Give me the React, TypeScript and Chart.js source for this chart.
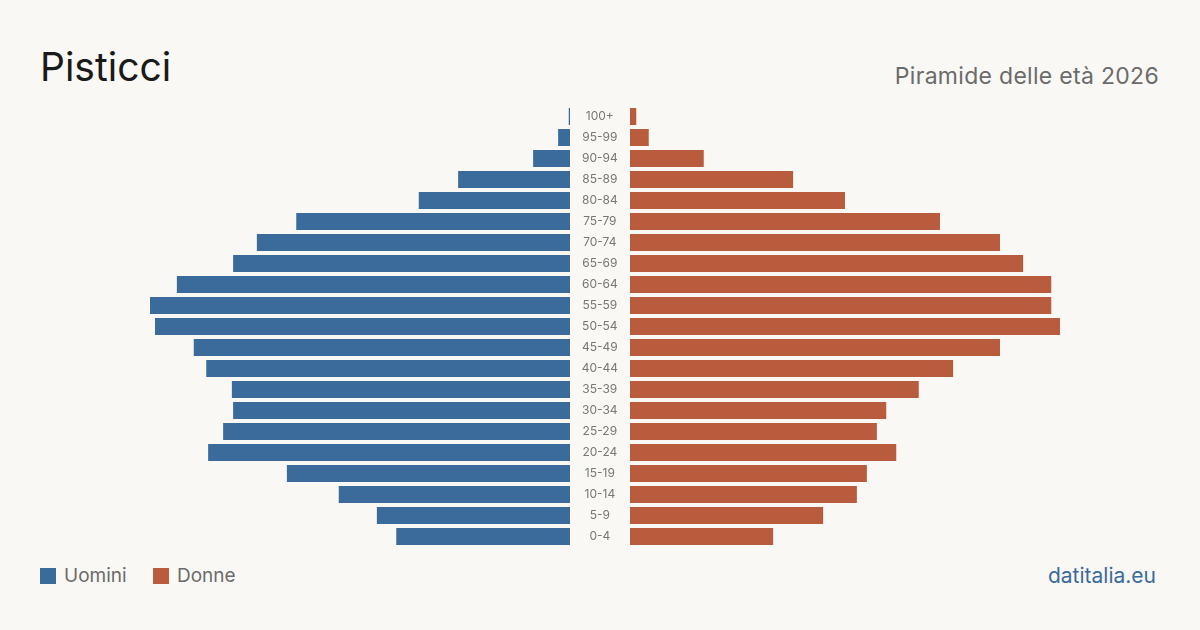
import React, { useEffect, useRef } from "react";
import { Chart, registerables } from "chart.js";

Chart.register(...registerables);

const ageGroups = ["0-4","5-9","10-14","15-19","20-24","25-29","30-34","35-39","40-44","45-49","50-54","55-59","60-64","65-69","70-74","75-79","80-84","85-89","90-94","95-99","100+"];
const maleValues = [278, 309, 370, 453, 579, 555, 539, 541, 582, 602, 664, 672, 629, 539, 501, 438, 242, 179, 59, 19, 2];
const femaleValues = [229, 309, 363, 379, 426, 395, 410, 462, 517, 592, 688, 674, 674, 629, 592, 496, 344, 261, 118, 30, 10];
const axisMax = 688;

const BLUE = "#3b6b9b";
const ORANGE = "#b95c3d";
const BG = "#f9f8f4";
const FONT = "Inter, 'Noto Sans', sans-serif";

export default function App() {
  const leftRef = useRef<HTMLCanvasElement>(null);
  const rightRef = useRef<HTMLCanvasElement>(null);

  useEffect(() => {
    const common = {
      indexAxis: "y" as const,
      animation: false as const,
      responsive: false,
      maintainAspectRatio: false,
      layout: { padding: 0 },
      plugins: { legend: { display: false }, tooltip: { enabled: false } },
    };
    const left = new Chart(leftRef.current!, {
      type: "bar",
      data: {
        labels: ageGroups,
        datasets: [{ data: maleValues, backgroundColor: BLUE, barPercentage: 0.81, categoryPercentage: 1 }],
      },
      options: {
        ...common,
        scales: {
          x: { display: false, reverse: true, min: 0, max: axisMax },
          y: { display: false, reverse: true },
        },
      },
    });
    const right = new Chart(rightRef.current!, {
      type: "bar",
      data: {
        labels: ageGroups,
        datasets: [{ data: femaleValues, backgroundColor: ORANGE, barPercentage: 0.81, categoryPercentage: 1 }],
      },
      options: {
        ...common,
        scales: {
          x: { display: false, min: 0, max: axisMax },
          y: {
            reverse: true,
            grid: { display: false },
            border: { display: false },
            ticks: { color: "#777", font: { family: FONT, size: 12 }, crossAlign: "center", padding: 4 },
            afterFit: (s: any) => { s.width = 60; s.paddingTop = 0; s.paddingBottom = 0; },
          },
        },
      },
    });
    return () => { left.destroy(); right.destroy(); };
  }, []);

  return (
    <div style={{ position: "absolute", left: 0, top: 0, width: 1200, height: 630, background: BG, fontFamily: FONT, overflow: "hidden" }}>
      <div style={{ position: "absolute", left: 40, top: 43, fontSize: 39, color: "#1a1a1a", lineHeight: "48px" }}>Pisticci</div>
      <div style={{ position: "absolute", right: 41, top: 62, fontSize: 23, color: "#6b6b6b", lineHeight: "28px", letterSpacing: "0.3px" }}>Piramide delle età 2026</div>
      <canvas ref={leftRef} width={430} height={441} style={{ position: "absolute", left: 140, top: 106, width: 430, height: 441 }} />
      <canvas ref={rightRef} width={490} height={441} style={{ position: "absolute", left: 570, top: 106, width: 490, height: 441 }} />
      <div style={{ position: "absolute", left: 40, top: 568, width: 16, height: 16, background: BLUE }} />
      <div style={{ position: "absolute", left: 64, top: 563, fontSize: 19, color: "#6b6b6b", lineHeight: "26px" }}>Uomini</div>
      <div style={{ position: "absolute", left: 153, top: 568, width: 16, height: 16, background: ORANGE }} />
      <div style={{ position: "absolute", left: 177, top: 563, fontSize: 19, color: "#6b6b6b", lineHeight: "26px" }}>Donne</div>
      <div style={{ position: "absolute", right: 44, top: 563, fontSize: 21, color: BLUE, lineHeight: "26px" }}>datitalia.eu</div>
    </div>
  );
}
